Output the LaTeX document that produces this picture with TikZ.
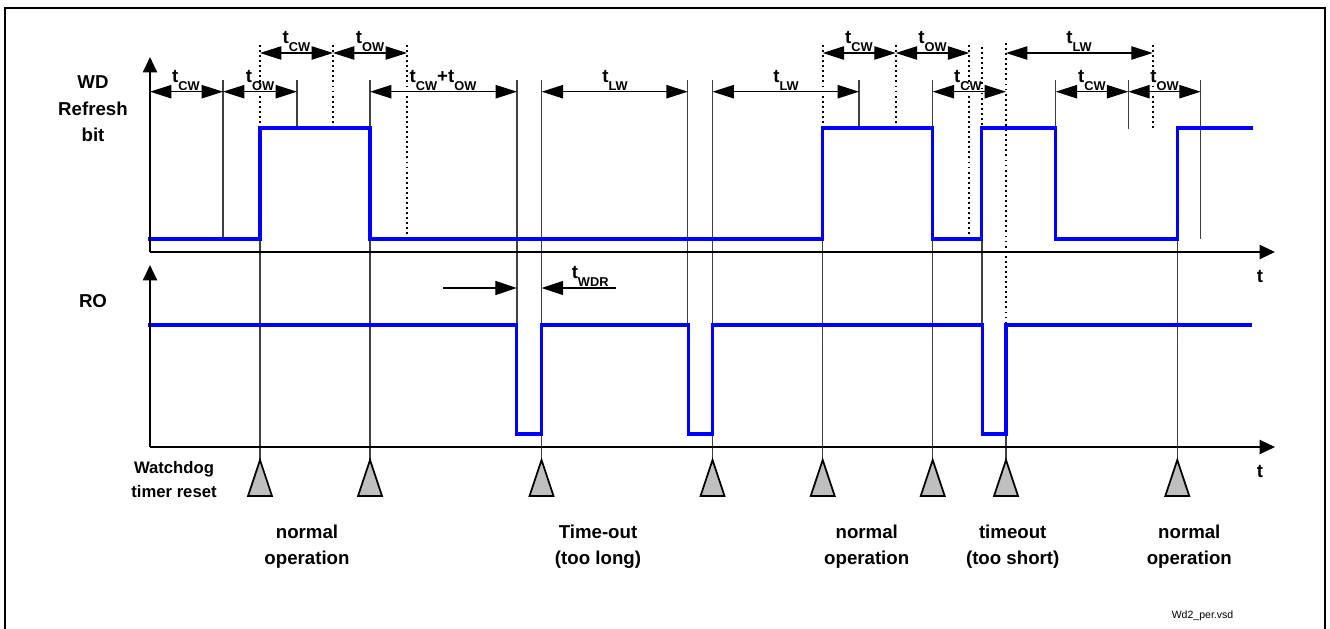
\documentclass[tikz,border=0pt]{standalone}
\usepackage{fontspec}
\setmainfont{Liberation Sans}
\usetikzlibrary{arrows.meta}
\newcommand\tsb[1]{t\raisebox{-6pt}{\fontsize{9.6}{10}\selectfont #1}}
\begin{document}
\begin{tikzpicture}[x=0.75pt,y=-0.75pt,
  sig/.style={draw=blue, line width=2.6pt},
  axisline/.style={line width=1.5pt, -{Triangle[length=11.5pt,width=10.5pt]}},
  thinl/.style={line width=0.8pt, draw=black!75},
  dotl/.style={line width=1.4pt, dash pattern=on 1.4pt off 2.4pt},
  dimarr/.style={line width=0.9pt, {Triangle[length=16pt,width=10pt]}-{Triangle[length=16pt,width=10pt]}},
  halfarr/.style={line width=0.9pt, -{Triangle[length=16pt,width=10.5pt]}},
  lbl/.style={font=\fontsize{14}{16}\selectfont\bfseries, inner sep=0, anchor=base},
  smlbl/.style={font=\fontsize{12.5}{14}\selectfont\bfseries, inner sep=0, anchor=base},
  tlbl/.style={font=\fontsize{14}{15}\selectfont\bfseries, inner sep=0, anchor=base},
  trig/.style={fill=black!25, draw=black, line width=1.3pt, line join=miter}]
\useasboundingbox (0,0) rectangle (1330,628);
% frame
\draw[line width=1.2pt] (5,634) -- (5,8) -- (1325,8) -- (1325,634);

% thin solid tick lines
\foreach \x/\ya/\yb in {223/80/239, 297/80/128, 370/80/460, 260/239/460,
  517/80/325, 541.7/80/460, 687.8/80/325, 712.5/80/460, 822.7/239/460,
  859/80/128, 932.7/80/460, 982/239/325, 1006/325/460, 1055.7/80/128,
  1128.3/80/129, 1177.3/239/460, 1200.7/80/239}
  \draw[thinl] (\x,\ya) -- (\x,\yb);

% dotted lines
\foreach \x/\ya/\yb in {260/45/128, 333/45/128, 407/45/239, 822.7/45/128,
  895.7/45/128, 969.3/45/239, 982/47/128, 1006/43/325, 1152.7/45/130}
  \draw[dotl] (\x,\ya) -- (\x,\yb);

% signals
\draw[sig] (148,239) -- (260,239) -- (260,128) -- (370,128) -- (370,239)
  -- (822.7,239) -- (822.7,128) -- (932.7,128) -- (932.7,239)
  -- (981.7,239) -- (981.7,128) -- (1055.7,128) -- (1055.7,239)
  -- (1177.3,239) -- (1177.3,128) -- (1253,128);
\draw[sig] (148,325) -- (516.7,325) -- (516.7,434) -- (541.5,434) -- (541.5,325)
  -- (688.3,325) -- (688.3,434) -- (712.3,434) -- (712.3,325)
  -- (982.3,325) -- (982.3,434) -- (1006,434) -- (1006,325) -- (1252,325);

% axes
\coordinate (o1) at (150,252);
\coordinate (o2) at (150,447);
\draw[axisline] (o1) -- (150,57);
\draw[axisline] (o1) -- (1275,252);
\draw[axisline] (o2) -- (150,265);
\draw[axisline] (o2) -- (1275,447);
\node[lbl, anchor=center] (t1) at (1260,276) {t};
\node[lbl, anchor=center] (t2) at (1260,471) {t};

% dimension arrows, row 1
\draw[dimarr] (260,53) -- (333,53);
\draw[dimarr] (333,53) -- (407,53);
\draw[dimarr] (822.7,53) -- (895.7,53);
\draw[dimarr] (895.7,53) -- (969.3,53);
\draw[dimarr] (1006,53) -- (1152.7,53);
\node[tlbl] (d1) at (296.5,43.5) {\tsb{CW}};
\node[tlbl] (d2) at (370,43.5) {\tsb{OW}};
\node[tlbl] (d3) at (859,43.5) {\tsb{CW}};
\node[tlbl] (d4) at (932.5,43.5) {\tsb{OW}};
\node[tlbl] (d5) at (1079,43.5) {\tsb{LW}};

% dimension arrows, row 2
\draw[dimarr] (150,91.7) -- (223,91.7);
\draw[dimarr] (223,91.7) -- (297,91.7);
\draw[dimarr] (370,91.7) -- (517,91.7);
\draw[dimarr] (541.7,91.7) -- (687.8,91.7);
\draw[dimarr] (712.5,91.7) -- (859,91.7);
\draw[dimarr] (932.7,91.7) -- (1006,91.7);
\draw[dimarr] (1055.7,91.7) -- (1128.3,91.7);
\draw[dimarr] (1128.3,91.7) -- (1200.7,91.7);
\node[tlbl] (e1) at (186,82) {\tsb{CW}};
\node[tlbl] (e2) at (260,82) {\tsb{OW}};
\node[tlbl] (e3) at (443,82) {\tsb{CW}+\tsb{OW}};
\node[tlbl] (e4) at (615,82) {\tsb{LW}};
\node[tlbl] (e5) at (786,82) {\tsb{LW}};
\node[tlbl] (e6) at (968,82) {\tsb{CW}};
\node[tlbl] (e7) at (1092,82) {\tsb{CW}};
\node[tlbl] (e8) at (1164.5,82) {\tsb{OW}};

% tWDR
\draw[halfarr] (443,288) -- (516.7,288);
\draw[halfarr] (616,288) -- (541.7,288);
\node[tlbl, anchor=base west] (wdr) at (571.5,278) {\tsb{WDR}};

% watchdog reset triangles
\foreach \x in {260,370,541.5,712.5,822.7,932.7,1006,1177.3}
  \draw[trig] (\x-12,496) -- (\x,460) -- (\x+12,496) -- cycle;

% left labels
\node[lbl] (wd1) at (93,88) {WD};
\node[lbl] (wd2) at (93,115) {Refresh};
\node[lbl] (wd3) at (93,141) {bit};
\node[lbl] (ro) at (93,307) {RO};
\node[smlbl] (wt1) at (174,473) {Watchdog};
\node[smlbl] (wt2) at (174,497) {timer reset};

% bottom labels
\node[lbl] (n1a) at (307,538) {normal};
\node[lbl] (n1b) at (307,564) {operation};
\node[lbl] (n2a) at (598,538) {Time-out};
\node[lbl] (n2b) at (598,564) {(too long)};
\node[lbl] (n3a) at (866.7,538) {normal};
\node[lbl] (n3b) at (866.7,564) {operation};
\node[lbl] (n4a) at (1012.7,538) {timeout};
\node[lbl] (n4b) at (1012.7,564) {(too short)};
\node[lbl] (n5a) at (1189.3,538) {normal};
\node[lbl] (n5b) at (1189.3,564) {operation};

\node[font=\fontsize{7.9}{9}\selectfont, inner sep=0] (file) at (1202.5,616) {Wd2\_per.vsd};
\end{tikzpicture}
\end{document}
